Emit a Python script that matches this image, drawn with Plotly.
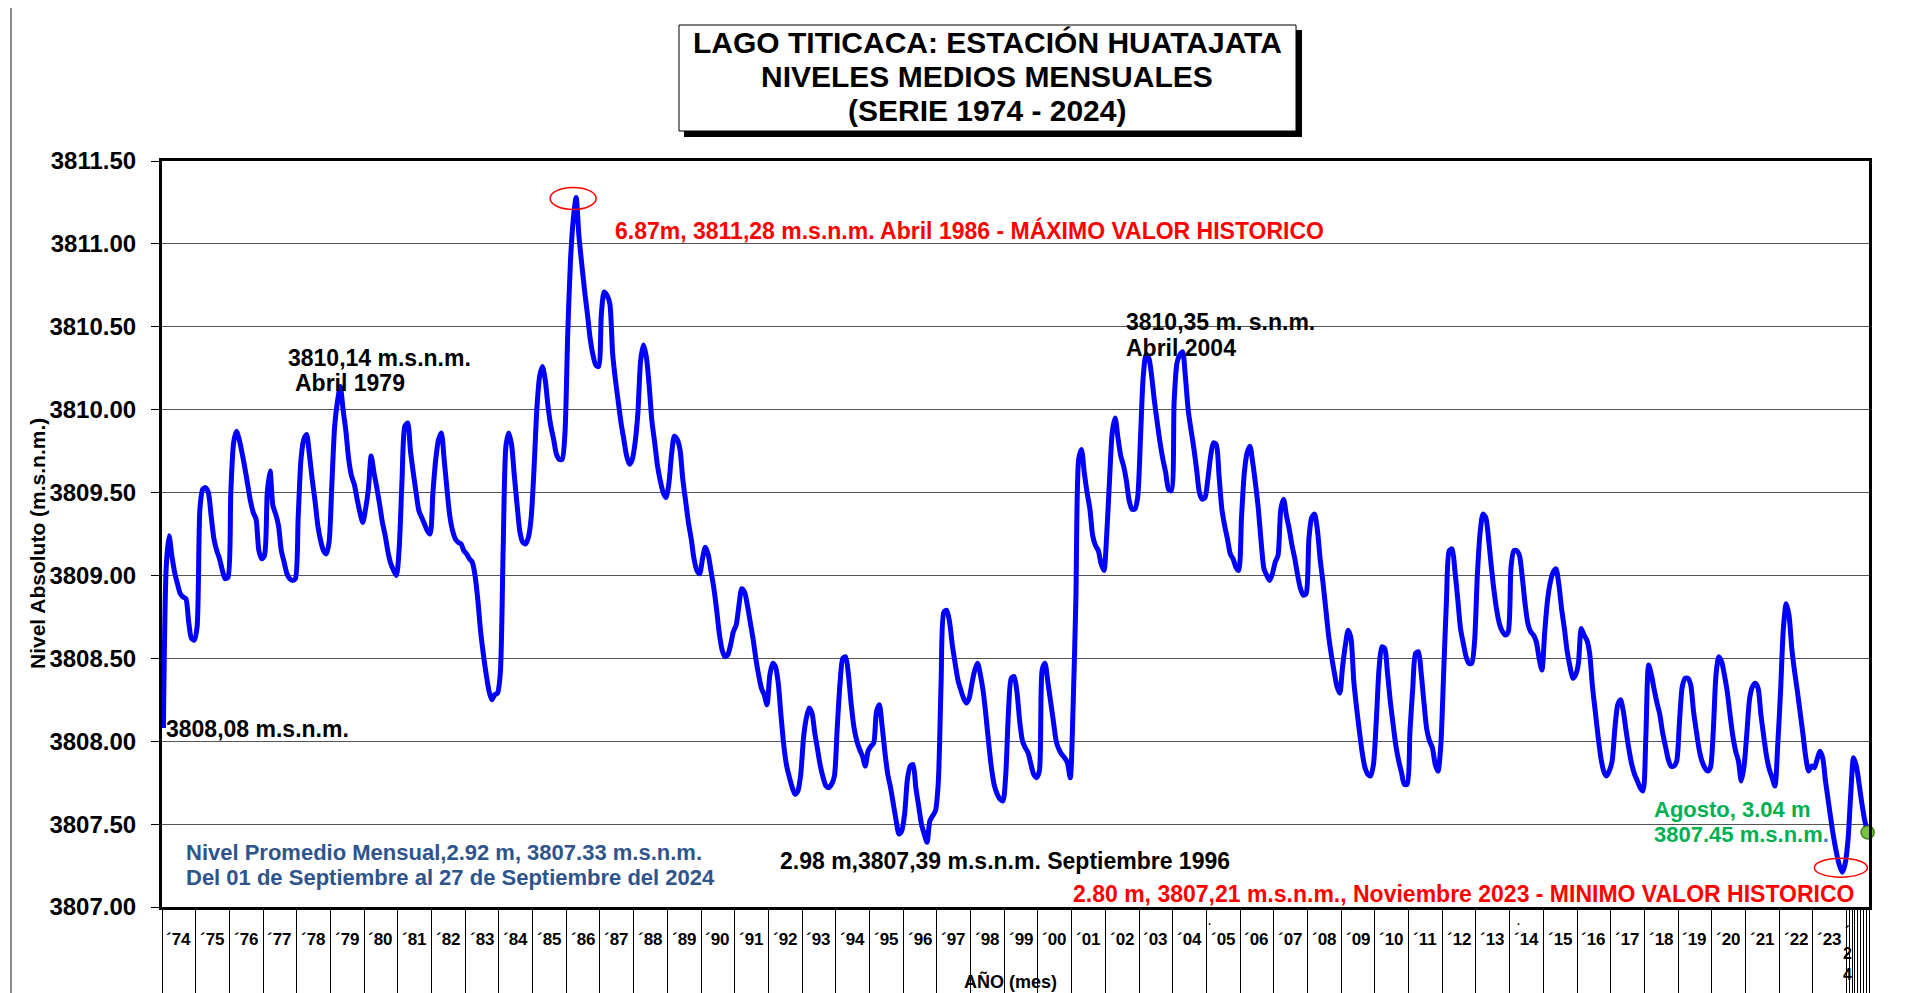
import numpy as np
import plotly.graph_objects as go

FONT = "Liberation Sans, Arial, Helvetica, sans-serif"

# ---------------- DATA (monthly mean levels, m.s.n.m.) ----------------
anio_inicio = 1974
nivel_1974 = [3808.08, 3809.05, 3809.24, 3809.12, 3809.02, 3808.95, 3808.89, 3808.87, 3808.86, 3808.72, 3808.62, 3808.61]
nivel_1975 = [3808.69, 3809.40, 3809.52, 3809.53, 3809.50, 3809.36, 3809.22, 3809.15, 3809.10, 3809.03, 3808.98, 3808.99]
nivel_1976 = [3809.50, 3809.80, 3809.87, 3809.82, 3809.74, 3809.65, 3809.55, 3809.45, 3809.38, 3809.34, 3809.15, 3809.10]
nivel_1977 = [3809.12, 3809.50, 3809.63, 3809.42, 3809.37, 3809.30, 3809.15, 3809.08, 3809.01, 3808.98, 3808.97, 3808.98]
nivel_1978 = [3809.35, 3809.70, 3809.82, 3809.85, 3809.73, 3809.58, 3809.45, 3809.30, 3809.21, 3809.15, 3809.13, 3809.20]
nivel_1979 = [3809.55, 3809.90, 3810.05, 3810.14, 3810.00, 3809.87, 3809.70, 3809.60, 3809.55, 3809.46, 3809.38, 3809.32]
nivel_1980 = [3809.40, 3809.52, 3809.72, 3809.62, 3809.53, 3809.43, 3809.32, 3809.24, 3809.14, 3809.07, 3809.03, 3809.00]
nivel_1981 = [3809.17, 3809.58, 3809.90, 3809.92, 3809.75, 3809.62, 3809.50, 3809.39, 3809.35, 3809.31, 3809.27, 3809.25]
nivel_1982 = [3809.50, 3809.70, 3809.82, 3809.86, 3809.70, 3809.52, 3809.36, 3809.27, 3809.22, 3809.20, 3809.19, 3809.15]
nivel_1983 = [3809.13, 3809.10, 3809.08, 3809.00, 3808.85, 3808.66, 3808.52, 3808.40, 3808.30, 3808.25, 3808.28, 3808.29]
nivel_1984 = [3808.41, 3809.15, 3809.78, 3809.86, 3809.79, 3809.60, 3809.42, 3809.26, 3809.20, 3809.19, 3809.23, 3809.35]
nivel_1985 = [3809.64, 3810.00, 3810.20, 3810.26, 3810.18, 3810.02, 3809.90, 3809.82, 3809.73, 3809.70, 3809.70, 3809.85]
nivel_1986 = [3810.45, 3810.90, 3811.15, 3811.28, 3811.05, 3810.88, 3810.72, 3810.58, 3810.43, 3810.33, 3810.27, 3810.26]
nivel_1987 = [3810.58, 3810.71, 3810.69, 3810.64, 3810.34, 3810.18, 3810.05, 3809.92, 3809.82, 3809.72, 3809.67, 3809.70]
nivel_1988 = [3809.80, 3809.98, 3810.30, 3810.39, 3810.32, 3810.15, 3809.93, 3809.80, 3809.66, 3809.57, 3809.50, 3809.47]
nivel_1989 = [3809.55, 3809.73, 3809.84, 3809.82, 3809.76, 3809.58, 3809.45, 3809.32, 3809.22, 3809.10, 3809.03, 3809.01]
nivel_1990 = [3809.10, 3809.17, 3809.13, 3809.03, 3808.93, 3808.80, 3808.65, 3808.55, 3808.51, 3808.52, 3808.58, 3808.66]
nivel_1991 = [3808.70, 3808.82, 3808.92, 3808.90, 3808.82, 3808.72, 3808.62, 3808.50, 3808.40, 3808.32, 3808.28, 3808.22]
nivel_1992 = [3808.40, 3808.47, 3808.45, 3808.35, 3808.15, 3807.97, 3807.85, 3807.78, 3807.72, 3807.68, 3807.70, 3807.80]
nivel_1993 = [3808.02, 3808.14, 3808.20, 3808.17, 3808.05, 3807.95, 3807.85, 3807.78, 3807.73, 3807.72, 3807.74, 3807.79]
nivel_1994 = [3808.08, 3808.35, 3808.50, 3808.51, 3808.40, 3808.22, 3808.08, 3808.00, 3807.95, 3807.91, 3807.85, 3807.94]
nivel_1995 = [3807.97, 3807.99, 3808.18, 3808.22, 3808.09, 3807.93, 3807.80, 3807.72, 3807.62, 3807.52, 3807.44, 3807.46]
nivel_1996 = [3807.56, 3807.77, 3807.85, 3807.86, 3807.72, 3807.61, 3807.50, 3807.44, 3807.39, 3807.52, 3807.55, 3807.58]
nivel_1997 = [3807.75, 3808.35, 3808.78, 3808.79, 3808.72, 3808.58, 3808.47, 3808.37, 3808.31, 3808.26, 3808.23, 3808.26]
nivel_1998 = [3808.35, 3808.43, 3808.47, 3808.40, 3808.30, 3808.15, 3807.98, 3807.83, 3807.73, 3807.68, 3807.65, 3807.64]
nivel_1999 = [3807.79, 3808.18, 3808.38, 3808.39, 3808.30, 3808.12, 3808.00, 3807.96, 3807.93, 3807.86, 3807.80, 3807.78]
nivel_2000 = [3807.82, 3808.43, 3808.47, 3808.36, 3808.24, 3808.12, 3808.00, 3807.95, 3807.92, 3807.90, 3807.87, 3807.78]
nivel_2001 = [3808.20, 3808.85, 3809.70, 3809.76, 3809.62, 3809.50, 3809.40, 3809.24, 3809.18, 3809.15, 3809.07, 3809.03]
nivel_2002 = [3809.25, 3809.58, 3809.87, 3809.95, 3809.83, 3809.72, 3809.66, 3809.57, 3809.45, 3809.40, 3809.40, 3809.47]
nivel_2003 = [3809.82, 3810.20, 3810.33, 3810.31, 3810.20, 3810.05, 3809.92, 3809.80, 3809.70, 3809.62, 3809.52, 3809.51]
nivel_2004 = [3810.05, 3810.28, 3810.33, 3810.35, 3810.20, 3810.00, 3809.88, 3809.77, 3809.64, 3809.50, 3809.46, 3809.47]
nivel_2005 = [3809.58, 3809.72, 3809.80, 3809.79, 3809.60, 3809.40, 3809.30, 3809.22, 3809.13, 3809.10, 3809.05, 3809.03]
nivel_2006 = [3809.35, 3809.62, 3809.74, 3809.78, 3809.68, 3809.55, 3809.40, 3809.20, 3809.04, 3809.00, 3808.97, 3809.01]
nivel_2007 = [3809.08, 3809.12, 3809.40, 3809.46, 3809.36, 3809.28, 3809.18, 3809.10, 3809.00, 3808.92, 3808.88, 3808.89]
nivel_2008 = [3809.22, 3809.35, 3809.37, 3809.28, 3809.10, 3808.96, 3808.80, 3808.64, 3808.52, 3808.42, 3808.33, 3808.29]
nivel_2009 = [3808.45, 3808.58, 3808.67, 3808.62, 3808.36, 3808.20, 3808.06, 3807.93, 3807.84, 3807.80, 3807.79, 3807.86]
nivel_2010 = [3808.12, 3808.44, 3808.57, 3808.56, 3808.41, 3808.24, 3808.10, 3807.97, 3807.88, 3807.81, 3807.74, 3807.74]
nivel_2011 = [3808.06, 3808.32, 3808.53, 3808.54, 3808.41, 3808.23, 3808.07, 3808.00, 3807.96, 3807.86, 3807.82, 3807.98]
nivel_2012 = [3808.41, 3808.85, 3809.15, 3809.16, 3809.03, 3808.86, 3808.68, 3808.59, 3808.51, 3808.47, 3808.47, 3808.60]
nivel_2013 = [3809.00, 3809.26, 3809.37, 3809.35, 3809.22, 3809.05, 3808.90, 3808.78, 3808.70, 3808.66, 3808.64, 3808.66]
nivel_2014 = [3809.05, 3809.15, 3809.15, 3809.12, 3808.99, 3808.83, 3808.71, 3808.66, 3808.64, 3808.60, 3808.50, 3808.43]
nivel_2015 = [3808.66, 3808.85, 3808.96, 3809.02, 3809.04, 3808.95, 3808.80, 3808.68, 3808.54, 3808.45, 3808.38, 3808.40]
nivel_2016 = [3808.47, 3808.68, 3808.64, 3808.61, 3808.53, 3808.33, 3808.18, 3808.03, 3807.90, 3807.82, 3807.79, 3807.82]
nivel_2017 = [3807.88, 3808.08, 3808.22, 3808.25, 3808.18, 3808.06, 3807.95, 3807.86, 3807.80, 3807.76, 3807.72, 3807.70]
nivel_2018 = [3808.02, 3808.46, 3808.40, 3808.31, 3808.23, 3808.16, 3808.05, 3807.97, 3807.89, 3807.85, 3807.85, 3807.88]
nivel_2019 = [3808.12, 3808.33, 3808.38, 3808.38, 3808.34, 3808.18, 3808.06, 3807.95, 3807.88, 3807.84, 3807.82, 3807.84]
nivel_2020 = [3808.05, 3808.40, 3808.51, 3808.48, 3808.40, 3808.30, 3808.16, 3808.03, 3807.94, 3807.88, 3807.76, 3807.85]
nivel_2021 = [3808.05, 3808.26, 3808.33, 3808.35, 3808.32, 3808.16, 3808.03, 3807.91, 3807.83, 3807.78, 3807.73, 3807.98]
nivel_2022 = [3808.30, 3808.68, 3808.83, 3808.76, 3808.56, 3808.42, 3808.30, 3808.17, 3808.04, 3807.90, 3807.82, 3807.85]
nivel_2023 = [3807.84, 3807.89, 3807.94, 3807.90, 3807.76, 3807.64, 3807.52, 3807.41, 3807.32, 3807.25, 3807.21, 3807.26]
nivel_2024 = [3807.40, 3807.68, 3807.90, 3807.85, 3807.74, 3807.62, 3807.52, 3807.45]

etiquetas_anio = ["´74", "´75", "´76", "´77", "´78", "´79", "´80", "´81", "´82", "´83",
                  "´84", "´85", "´86", "´87", "´88", "´89", "´90", "´91", "´92", "´93",
                  "´94", "´95", "´96", "´97", "´98", "´99", "´00", "´01", "´02", "´03",
                  "´04", "´05", "´06", "´07", "´08", "´09", "´10", "´11", "´12", "´13",
                  "´14", "´15", "´16", "´17", "´18", "´19", "´20", "´21", "´22", "´23"]
etiqueta_2024 = ["´", "2", "4"]

y_ticks = [3807.00, 3807.50, 3808.00, 3808.50, 3809.00, 3809.50, 3810.00, 3810.50, 3811.00, 3811.50]

titulo = ["LAGO TITICACA: ESTACIÓN HUATAJATA", "NIVELES MEDIOS MENSUALES", "(SERIE 1974 - 2024)"]

# ---------------- BUILD ----------------
series = [nivel_1974, nivel_1975, nivel_1976, nivel_1977, nivel_1978, nivel_1979, nivel_1980,
          nivel_1981, nivel_1982, nivel_1983, nivel_1984, nivel_1985, nivel_1986, nivel_1987,
          nivel_1988, nivel_1989, nivel_1990, nivel_1991, nivel_1992, nivel_1993, nivel_1994,
          nivel_1995, nivel_1996, nivel_1997, nivel_1998, nivel_1999, nivel_2000, nivel_2001,
          nivel_2002, nivel_2003, nivel_2004, nivel_2005, nivel_2006, nivel_2007, nivel_2008,
          nivel_2009, nivel_2010, nivel_2011, nivel_2012, nivel_2013, nivel_2014, nivel_2015,
          nivel_2016, nivel_2017, nivel_2018, nivel_2019, nivel_2020, nivel_2021, nivel_2022,
          nivel_2023, nivel_2024]
niveles = np.concatenate([np.array(s, dtype=float) for s in series])
n = len(niveles)
x = anio_inicio + (np.arange(n) + 0.5) / 12.0
x_fin = anio_inicio + n / 12.0
ultimo_anio = anio_inicio + len(series) - 1

# geometry: positions below are screen pixels; the page body adds an 8px offset
OFF = 8
W, H = 1932 - OFF, 993 - OFF
PL, PR, PT, PB = 162, 1869, 161, 907


def px_x(p):
    return (p - PL) / (PR - PL)


def px_y(p):
    return (PB - p) / (PB - PT)


fig = go.Figure()
fig.add_trace(go.Scatter(
    x=x, y=niveles, mode="lines",
    line=dict(color="#0000FF", width=5, shape="spline", smoothing=0.7),
    hoverinfo="skip", showlegend=False))
fig.add_trace(go.Scatter(
    x=[x[-1]], y=[niveles[-1]], mode="markers", cliponaxis=False,
    marker=dict(size=13, color="#7CC242", line=dict(color="#3F7F1F", width=1.5)),
    hoverinfo="skip", showlegend=False))

tick_vals = [float(a) for a in range(anio_inicio, ultimo_anio + 1)]
tick_vals += [ultimo_anio + k / 12.0 for k in range(1, len(nivel_2024) + 1)]

fig.update_xaxes(
    range=[anio_inicio, x_fin], tickmode="array", tickvals=tick_vals,
    ticks="outside", ticklen=86, tickwidth=1, tickcolor="black",
    showticklabels=False, showgrid=False, zeroline=False, automargin=False,
    showline=True, linecolor="black", linewidth=3, mirror=True)
fig.update_yaxes(
    range=[y_ticks[0], y_ticks[-1]], tickmode="array", tickvals=y_ticks,
    ticktext=[f"{v:.2f}" for v in y_ticks],
    ticks="outside", ticklen=8, tickwidth=1, tickcolor="black",
    tickfont=dict(family=FONT, size=24, color="black", weight="bold"),
    ticklabelstandoff=10, automargin=False,
    showgrid=True, gridcolor="#555555", gridwidth=1, zeroline=False,
    showline=True, linecolor="black", linewidth=3, mirror=True)

shapes = []
imax = int(np.argmax(niveles))
imin = int(np.argmin(niveles))
shapes.append(dict(type="circle", xref="x", yref="y", xsizemode="pixel", ysizemode="pixel",
                   xanchor=x[imax], yanchor=niveles[imax], x0=-26, x1=20, y0=-12, y1=10,
                   line=dict(color="#FF0000", width=1.5), layer="above"))
shapes.append(dict(type="circle", xref="x", yref="y", xsizemode="pixel", ysizemode="pixel",
                   xanchor=x[imin], yanchor=niveles[imin], x0=-28, x1=25, y0=-5, y1=14,
                   line=dict(color="#FF0000", width=1.5), layer="above"))
# title box with shadow
shapes.append(dict(type="rect", xref="paper", yref="paper",
                   x0=px_x(684), x1=px_x(1302), y0=px_y(137), y1=px_y(30),
                   fillcolor="black", line=dict(width=0), layer="above"))
shapes.append(dict(type="rect", xref="paper", yref="paper",
                   x0=px_x(679), x1=px_x(1296), y0=px_y(131), y1=px_y(25),
                   fillcolor="white", line=dict(color="black", width=1), layer="above"))
# page border lines
for bx in (11, 1929):
    shapes.append(dict(type="line", xref="paper", yref="paper",
                       x0=px_x(bx), x1=px_x(bx), y0=px_y(993), y1=px_y(5),
                       line=dict(color="#8C8C8C", width=2), layer="above"))

annotations = []


def txt(text, xp, yp, size=23, color="black", anchor="left", angle=0):
    annotations.append(dict(text=text, xref="paper", yref="paper", x=px_x(xp), y=px_y(yp),
                            xanchor=anchor, yanchor="middle", showarrow=False, textangle=angle,
                            font=dict(family=FONT, size=size, color=color, weight="bold")))


for i, t in enumerate(titulo):
    txt(t, 987, 43 + 33.5 * i, size=30, anchor="center")

txt("3810,14 m.s.n.m.", 286, 358)
txt("Abril 1979", 293, 383)
txt("6.87m, 3811,28 m.s.n.m. Abril 1986 - MÁXIMO VALOR HISTORICO", 613, 231, color="#FF0000")
txt("3810,35 m. s.n.m.", 1124, 322)
txt("Abril 2004", 1124, 348)
txt("3808,08 m.s.n.m.", 164, 729)
txt("Nivel Promedio Mensual,2.92 m, 3807.33 m.s.n.m.", 184, 852, size=22, color="#2F548C")
txt("Del 01 de Septiembre al 27 de Septiembre del 2024", 184, 877, size=22, color="#2F548C")
txt("2.98 m,3807,39 m.s.n.m. Septiembre 1996", 778, 861)
txt("2.80 m, 3807,21 m.s.n.m., Noviembre 2023 - MINIMO VALOR HISTORICO", 1071, 894, color="#FF0000")
txt("Agosto, 3.04 m", 1652, 809, size=22, color="#00B050")
txt("3807.45 m.s.n.m<span style='color:#4472C4'>.</span>", 1652, 834, size=22, color="#00B050")

txt("Nivel Absoluto (m.s.n.m.)", 37, 544, size=21, anchor="center", angle=-90)
txt("AÑO (mes)", 1010, 981, size=18, anchor="center")

for i, lab in enumerate(etiquetas_anio):
    annotations.append(dict(text=lab, xref="x", yref="paper", x=anio_inicio + i + 0.5, y=px_y(940),
                            xanchor="center", yanchor="middle", showarrow=False,
                            font=dict(family=FONT, size=17, color="black", weight="bold")))
# wrapped label of the partial last year (one character per line)
annotations.append(dict(text="<br>".join(etiqueta_2024), xref="x", yref="paper",
                        x=ultimo_anio + 0.02, y=px_y(953),
                        xanchor="center", yanchor="middle", showarrow=False,
                        font=dict(family=FONT, size=16, color="black", weight="bold")))
txt(".", 1209, 921, size=11, anchor="center")
txt(".", 1518, 921, size=11, anchor="center")

fig.update_layout(
    width=W, height=H, autosize=False,
    margin=dict(l=PL - OFF, r=W - (PR - OFF), t=PT - OFF, b=H - (PB - OFF), pad=0),
    paper_bgcolor="white", plot_bgcolor="white",
    showlegend=False, shapes=shapes, annotations=annotations,
    font=dict(family=FONT, color="black"))

fig.write_html("out.html")
